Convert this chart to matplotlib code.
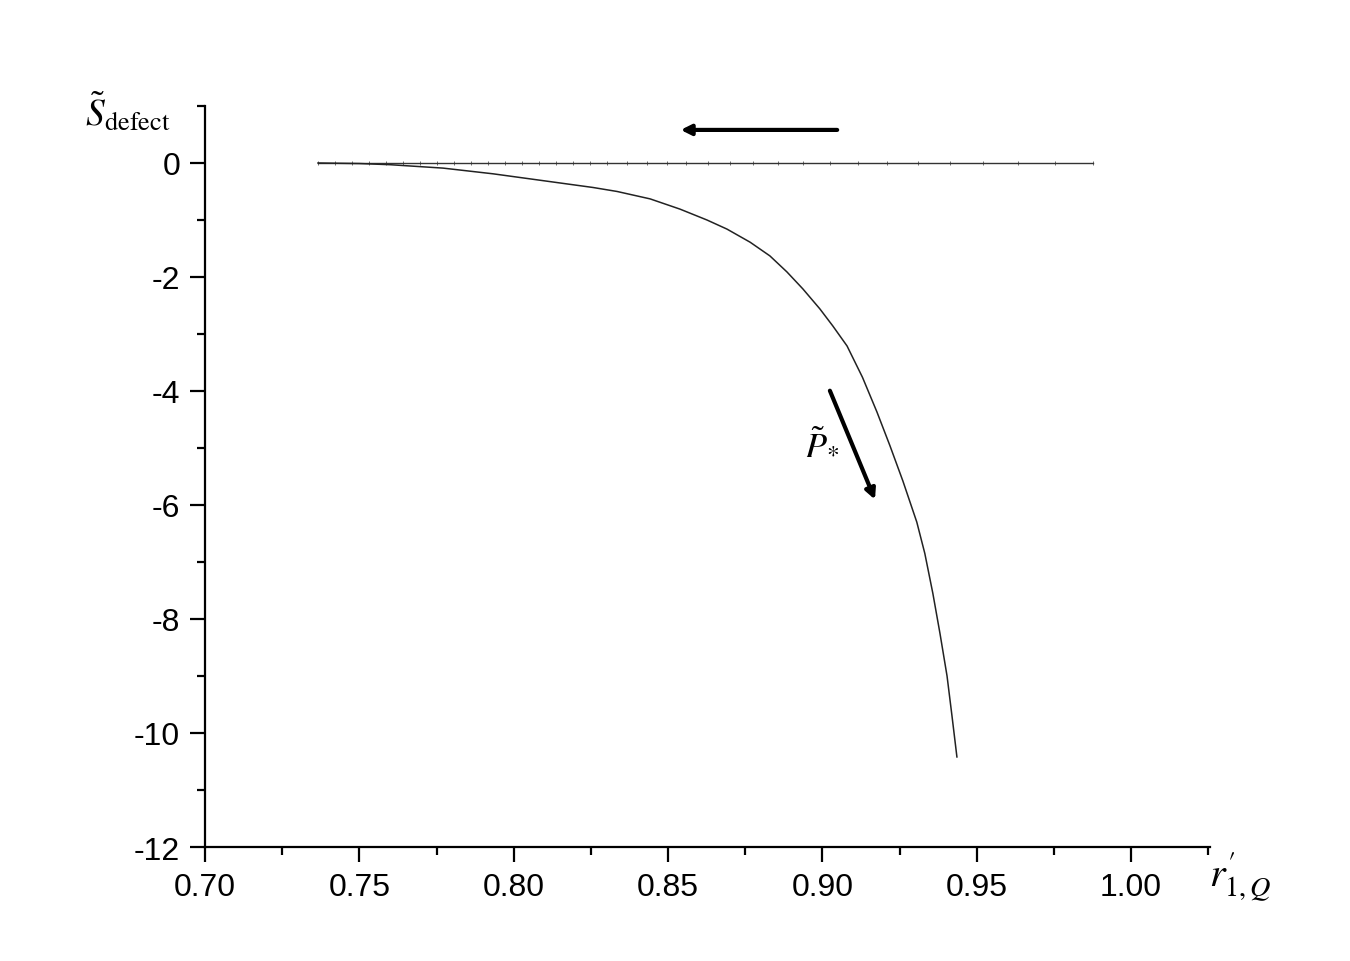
import numpy as np
import matplotlib.pyplot as plt

plt.rcParams['font.family'] = ['Liberation Sans', 'DejaVu Sans']
plt.rcParams['mathtext.fontset'] = 'stix'

# gałąź zerowa (punkty danych widoczne jako drobne kreski)
x_zero = [0.7366, 0.7421, 0.7476, 0.7531, 0.7586, 0.7641, 0.7696, 0.7752, 0.7807,
          0.7862, 0.7917, 0.7972, 0.8027, 0.8082, 0.8137, 0.8192, 0.8247, 0.8302,
          0.8367, 0.8432, 0.8497, 0.8558, 0.8629, 0.8701, 0.8775, 0.8856, 0.8937,
          0.9025, 0.9115, 0.9209, 0.9310, 0.9413, 0.9520, 0.9634, 0.9753, 0.9877]
y_zero = [0.0] * len(x_zero)

# gałąź opadająca
x_curve = [0.7366, 0.7500, 0.7599, 0.7771, 0.7933, 0.8095, 0.8257, 0.8335, 0.8442,
           0.8539, 0.8626, 0.8691, 0.8766, 0.8830, 0.8885, 0.8937, 0.8992, 0.9034,
           0.9080, 0.9130, 0.9177, 0.9219, 0.9261, 0.9306, 0.9332, 0.9358, 0.9381,
           0.9404, 0.9420, 0.9436]
y_curve = [0.0, -0.01, -0.03, -0.09, -0.19, -0.31, -0.43, -0.50, -0.63,
           -0.81, -1.00, -1.16, -1.39, -1.63, -1.91, -2.21, -2.56, -2.86,
           -3.21, -3.76, -4.37, -4.96, -5.58, -6.30, -6.85, -7.55, -8.25,
           -9.00, -9.70, -10.42]

# strzałki
arrow_h = [(0.9057, 0.58), (0.8532, 0.58)]
arrow_d = [(0.9021, -3.95), (0.9174, -5.95)]
label_p = (0.8999, -4.93)

fig = plt.figure(figsize=(13.5, 9.62), dpi=100)
ax = fig.add_axes([0.1519, 0.1185, 0.7444, 0.7703])

ax.plot(x_zero, y_zero, '-', color='#333333', lw=1.0, marker='|', ms=2.5, mew=0.5)
ax.plot(x_curve, y_curve, '-', color='#222222', lw=1.1)

ax.set_xlim(0.70, 1.0256)
ax.set_ylim(-12, 1.0)
ax.set_xticks(np.arange(0.70, 1.001, 0.05))
ax.set_xticks(np.arange(0.725, 1.03, 0.05), minor=True)
ax.set_yticks(np.arange(-12, 0.1, 2))
ax.set_yticks(np.arange(-11, 1.1, 2), minor=True)
ax.set_xticklabels(['0.70', '0.75', '0.80', '0.85', '0.90', '0.95', '1.00'])
ax.set_yticklabels(['-12', '-10', '-8', '-6', '-4', '-2', '0'])

for s in ['top', 'right']:
    ax.spines[s].set_visible(False)
for s in ['left', 'bottom']:
    ax.spines[s].set_linewidth(1.6)
ax.tick_params(which='major', direction='out', length=11, width=1.6, labelsize=23, pad=7)
ax.tick_params(which='minor', direction='out', length=6, width=1.6)

ax.annotate('', xy=arrow_h[1], xytext=arrow_h[0],
            arrowprops=dict(arrowstyle='-|>,head_length=0.6,head_width=0.3', lw=3, color='black'))
ax.annotate('', xy=arrow_d[1], xytext=arrow_d[0],
            arrowprops=dict(arrowstyle='-|>,head_length=0.6,head_width=0.3', lw=3, color='black'))
ax.text(label_p[0], label_p[1], r'$\tilde{P}_{*}$', fontsize=26, ha='center', va='center')

ax.text(-0.077, 0.993, r'$\tilde{S}_{\mathrm{defect}}$', transform=ax.transAxes,
        fontsize=27, ha='center', va='center')
ax.text(1.03, -0.04, r"$r_{1,Q}^{\prime}$", transform=ax.transAxes,
        fontsize=29, ha='center', va='center')

fig.savefig('out.png', dpi=100)
